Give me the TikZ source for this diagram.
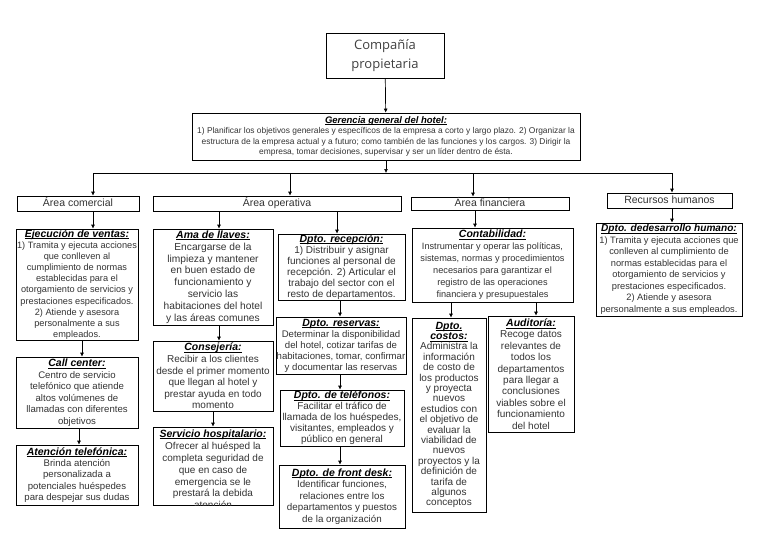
\documentclass[tikz,border=0pt]{standalone}
\usepackage{fontspec}
\setmainfont{Liberation Sans}
\newfontfamily\compfont{Open Sans}
\usetikzlibrary{arrows.meta}
\newcommand*\ulx[1]{\setbox0=\hbox{#1}\rlap{\rule[-1.6pt]{\wd0}{0.6pt}}\box0}
\newcommand*\ttl[2][10.5]{{\fontsize{#1}{#1}\selectfont\color{black}\bfseries\itshape\ulx{#2}}}
\begin{document}
\begin{tikzpicture}[x=1pt,y=-1pt,
  box/.style={draw, line width=0.7pt, inner sep=0pt, align=center, text=black!80},
  areabox/.style={box, font=\fontsize{10.5}{12}\selectfont, text height=8pt, text depth=2.3pt},
  fs/.style 2 args={font=\fontsize{#1}{#2}\selectfont},
  arr/.style={-{Latex[length=4pt,width=4pt]}, line width=0.7pt}]
\useasboundingbox (0,0) rectangle (768,543);

% top
\node[box, minimum width=118, minimum height=45, text=black!75, font=\compfont\fontsize{13}{19}\selectfont] (comp) at (385,55.5) {Compañía\\propietaria};
\node[box, minimum width=388, minimum height=47, fs={8.4}{10.5}] (ger) at (386,136.5)
 {\ttl[9.5]{Gerencia general del hotel:}\\
 1) Planificar los objetivos generales y específicos de la empresa a corto y largo plazo. 2) Organizar la\\
 estructura de la empresa actual y a futuro; como también de las funciones y los cargos. 3) Dirigir la\\
 empresa, tomar decisiones, supervisar y ser un líder dentro de ésta.};

% areas
\node[areabox, minimum width=122, minimum height=15] (com) at (78,203.5) {Área comercial};
\node[areabox, minimum width=248, minimum height=15] (ope) at (277,203.5) {Área operativa};
\node[areabox, minimum width=158, minimum height=13] (fin) at (490,203.5) {Área financiera};
\node[areabox, minimum width=125, minimum height=15] (rh) at (669.5,200.5) {Recursos humanos};

% bus
\coordinate (busL) at (93,173);
\coordinate (busO) at (290,173);
\coordinate (busG) at (386,173);
\coordinate (busF) at (473,173);
\coordinate (busR) at (672,173);
\draw[line width=0.7pt] (busL) -- (busR);
\draw[arr] (comp) -- (ger);
\draw[arr] (ger.south) -- (busG);
\draw[arr] (busL) -- (busL |- com.north);
\draw[arr] (busO) -- (busO |- ope.north);
\draw[arr] (busF) -- (busF |- fin.north);
\draw[arr] (busR) -- (busR |- rh.north);

% column 1
\node[box, minimum width=122, minimum height=111, fs={9.2}{11.1}] (ejec) at (77,284.5)
 {\ttl{Ejecución de ventas:}\\ 1) Tramita y ejecuta acciones\\ que conlleven al\\ cumplimiento de normas\\ establecidas para el\\ otorgamiento de servicios y\\ prestaciones especificados.\\ 2) Atiende y asesora\\ personalmente a sus\\ empleados.};
\node[box, minimum width=122, minimum height=71, fs={9.6}{11.5}] (call) at (77,392.5)
 {\ttl{Call center:}\\ Centro de servicio\\ telefónico que atiende\\ altos volúmenes de\\ llamadas con diferentes\\ objetivos};
\node[box, minimum width=122, minimum height=60, fs={9.6}{11.3}] (aten) at (77,475)
 {\ttl{Atención telefónica:}\\ Brinda atención\\ personalizada a\\ potenciales huéspedes\\ para despejar sus dudas};
\coordinate (c1a) at (93,0);
\coordinate (c1b) at (82,0);
\coordinate (c1c) at (79,0);
\draw[arr] (com.south -| c1a) -- (ejec.north -| c1a);
\draw[arr] (ejec.south -| c1b) -- (call.north -| c1b);
\draw[arr] (call.south -| c1c) -- (aten.north -| c1c);

% column 2
\node[box, minimum width=120, minimum height=96, fs={10.2}{11.8}] (ama) at (213,277)
 {\ttl{Ama de llaves:}\\ Encargarse de la\\ limpieza y mantener\\ en buen estado de\\ funcionamiento y\\ servicio las\\ habitaciones del hotel\\ y las áreas comunes};
\node[box, minimum width=120, minimum height=70, fs={10}{11.6}] (cons) at (213,376)
 {\ttl{Consejería:}\\ Recibir a los clientes\\ desde el primer momento\\ que llegan al hotel y\\ prestar ayuda en todo\\ momento};
\node[box, minimum width=120, minimum height=78] (serv) at (213,466) {};
\begin{scope}
\clip (serv.south west) rectangle (serv.north east);
\node[anchor=north, align=center, inner sep=0pt, text=black!80, fs={10}{11.9}] (servtxt) at ([yshift=-3pt]serv.north)
 {\ttl{Servicio hospitalario:}\\ Ofrecer al huésped la\\ completa seguridad de\\ que en caso de\\ emergencia se le\\ prestará la debida\\ atención};
\end{scope}
\coordinate (c2a) at (219,0);
\coordinate (c2b) at (213,0);
\draw[arr] (ope.south -| c2a) -- (ama.north -| c2a);
\draw[arr] (ama.south -| c2a) -- (cons.north -| c2a);
\draw[arr] (cons.south -| c2b) -- (serv.north -| c2b);

% column 3
\node[box, minimum width=127, minimum height=66, fs={10}{11}] (recep) at (341.5,267)
 {\ttl{Dpto. recepción:}\\ 1) Distribuir y asignar\\ funciones al personal de\\ recepción. 2) Articular el\\ trabajo del sector con el\\ resto de departamentos.};
\node[box, minimum width=130, minimum height=57, fs={9.6}{11}] (reser) at (341,345.5)
 {\ttl{Dpto. reservas:}\\ Determinar la disponibilidad\\ del hotel, cotizar tarifas de\\ habitaciones, tomar, confirmar\\ y documentar las reservas};
\node[box, minimum width=124, minimum height=56, fs={10}{11}] (telef) at (342,418)
 {\ttl{Dpto. de teléfonos:}\\ Facilitar el tráfico de\\ llamada de los huéspedes,\\ visitantes, empleados y\\ público en general};
\node[box, minimum width=126, minimum height=63, fs={9.8}{11.5}] (front) at (342,496.5)
 {\ttl{Dpto. de front desk:}\\ Identificar funciones,\\ relaciones entre los\\ departamentos y puestos\\ de la organización};
\coordinate (c3a) at (337,0);
\coordinate (c3b) at (340,0);
\draw[arr] (ope.south -| c3a) -- (recep.north -| c3a);
\draw[arr] (recep.south -| c3b) -- (reser.north -| c3b);
\draw[arr] (reser.south -| c3b) -- (telef.north -| c3b);
\draw[arr] (telef.south -| c3b) -- (front.north -| c3b);

% column 4
\node[box, minimum width=161, minimum height=74, fs={9.2}{12}] (conta) at (492.5,265)
 {\ttl{Contabilidad:}\\ Instrumentar y operar las políticas,\\ sistemas, normas y procedimientos\\ necesarios para garantizar el\\ registro de las operaciones\\ financiera y presupuestales};
\node[box, minimum width=74, minimum height=194, fs={10}{10.4}] (costos) at (449,415)
 {\ttl{Dpto.}\\ \ttl{costos:}\\ Administra la\\ información\\ de costo de\\ los productos\\ y proyecta\\ nuevos\\ estudios con\\ el objetivo de\\ evaluar la\\ viabilidad de\\ nuevos\\ proyectos y la\\ definición de\\ tarifa de\\ algunos\\ conceptos};
\node[box, minimum width=86, minimum height=116, fs={10}{11.4}] (audit) at (531,374)
 {\ttl{Auditoría:}\\ Recoge datos\\ relevantes de\\ todos los\\ departamentos\\ para llegar a\\ conclusiones\\ viables sobre el\\ funcionamiento\\ del hotel};
\coordinate (c4a) at (475,0);
\coordinate (c4b) at (451,0);
\coordinate (c4c) at (536,0);
\draw[arr] (fin.south -| c4a) -- (conta.north -| c4a);
\draw[arr] (conta.south -| c4b) -- (costos.north -| c4b);
\draw[arr] (conta.south -| c4c) -- (audit.north -| c4c);

% column 5
\node[box, minimum width=146, minimum height=93, fs={9.3}{11.5}] (ddh) at (669,269.5)
 {\ttl[10.1]{Dpto. dedesarrollo humano:}\\ 1) Tramita y ejecuta acciones que\\ conlleven al cumplimiento de\\ normas establecidas para el\\ otorgamiento de servicios y\\ prestaciones especificados.\\ 2) Atiende y asesora\\ personalmente a sus empleados.};
\coordinate (c5a) at (672,0);
\draw[arr] (rh.south -| c5a) -- (ddh.north -| c5a);
\end{tikzpicture}
\end{document}
